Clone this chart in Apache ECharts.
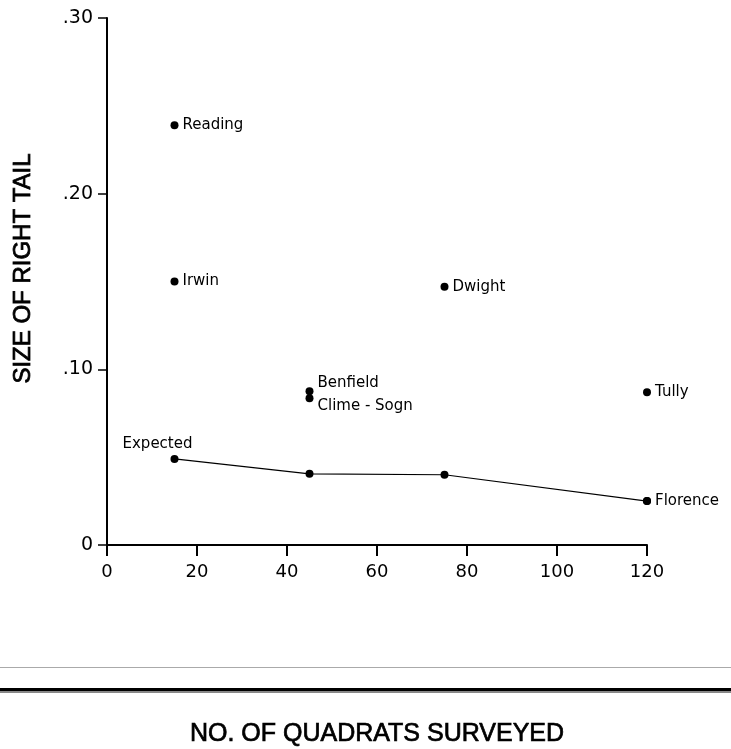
<!DOCTYPE html>
<html>
<head>
<meta charset="utf-8">
<script src="https://cdn.jsdelivr.net/npm/echarts@6/dist/echarts.min.js"></script>
<style>
html,body{margin:0;padding:0;background:#fff;}
#chart{width:731px;height:749px;}
</style>
</head>
<body>
<div id="chart"></div>
<script>
// Data
var siteNames = ['Reading', 'Irwin', 'Benfield', 'Clime - Sogn', 'Dwight', 'Tully', 'Florence'];
var siteX = [15, 15, 45, 45, 75, 120, 120];
var siteY = [0.239, 0.150, 0.0875, 0.0835, 0.147, 0.087, 0.025];

var expectedX = [15, 45, 75, 120];
var expectedY = [0.049, 0.0405, 0.040, 0.025];

var xTicks = [0, 20, 40, 60, 80, 100, 120];
var yTicks = [0, 0.10, 0.20, 0.30];

var labelOffsets = {
  'Benfield': [0, -8],
  'Clime - Sogn': [0, 8]
};

var chart = echarts.init(document.getElementById('chart'), null, {renderer: 'canvas'});
var font = 'DejaVu Sans';

var siteData = siteNames.map(function (n, i) {
  var off = labelOffsets[n] || [0, 0];
  return {
    name: n,
    value: [siteX[i], siteY[i]],
    label: {offset: off}
  };
});

var expData = expectedX.map(function (x, i) {
  var d = {value: [x, expectedY[i]]};
  if (i === 0) {
    d.label = {show: true, formatter: 'Expected', position: 'top', offset: [-17, 2]};
  }
  return d;
});

chart.setOption({
  backgroundColor: '#fff',
  animation: false,
  grid: {left: 107, right: 84, top: 18, bottom: 204, containLabel: false, outerBoundsMode: 'none'},
  xAxis: {
    type: 'value',
    min: xTicks[0],
    max: xTicks[xTicks.length - 1],
    interval: xTicks[1] - xTicks[0],
    name: 'NO. OF QUADRATS SURVEYED',
    nameLocation: 'middle',
    nameGap: 177,
    nameTextStyle: {fontFamily: 'Liberation Sans', fontSize: 25, color: '#000', fontWeight: 'normal',
      textBorderColor: '#000', textBorderWidth: 0.7},
    axisLine: {lineStyle: {color: '#000', width: 2}},
    axisTick: {show: true, inside: false, length: 11, lineStyle: {color: '#000', width: 2}},
    axisLabel: {fontFamily: font, fontSize: 18, color: '#000', margin: 18},
    splitLine: {show: false}
  },
  yAxis: {
    type: 'value',
    min: yTicks[0],
    max: yTicks[yTicks.length - 1],
    interval: yTicks[1] - yTicks[0],
    name: 'SIZE OF RIGHT TAIL',
    nameLocation: 'middle',
    nameGap: 72,
    nameTextStyle: {fontFamily: 'Liberation Sans', fontSize: 24, color: '#000', fontWeight: 'normal',
      textBorderColor: '#000', textBorderWidth: 0.8, padding: [0, 0, 0, 26]},
    axisLine: {lineStyle: {color: '#000', width: 2}},
    axisTick: {show: true, inside: false, length: 9, lineStyle: {color: '#000', width: 1.5}},
    axisLabel: {
      fontFamily: font, fontSize: 19, color: '#000', margin: 14,
      formatter: function (v) {
        if (v === 0) return '0';
        return '.' + (Math.round(v * 100) < 10 ? '0' : '') + Math.round(v * 100);
      }
    },
    splitLine: {show: false}
  },
  series: [
    {
      type: 'line',
      data: expData,
      symbol: 'circle',
      symbolSize: 8,
      itemStyle: {color: '#000', opacity: 1},
      lineStyle: {color: '#000', width: 1.2},
      label: {show: false, fontFamily: font, fontSize: 15, color: '#000'},
      z: 3
    },
    {
      type: 'scatter',
      data: siteData,
      symbol: 'circle',
      symbolSize: 8,
      itemStyle: {color: '#000', opacity: 1},
      label: {
        show: true,
        position: 'right',
        distance: 4,
        formatter: '{b}',
        fontFamily: font,
        fontSize: 15,
        color: '#000'
      },
      z: 4
    }
  ],
  graphic: [
    {type: 'rect', shape: {x: 0, y: 667, width: 731, height: 1}, style: {fill: '#aaa'}},
    {type: 'rect', shape: {x: 0, y: 688, width: 731, height: 3}, style: {fill: '#000'}},
    {type: 'rect', shape: {x: 0, y: 691, width: 731, height: 2}, style: {fill: '#888'}}
  ]
});
</script>
</body>
</html>
